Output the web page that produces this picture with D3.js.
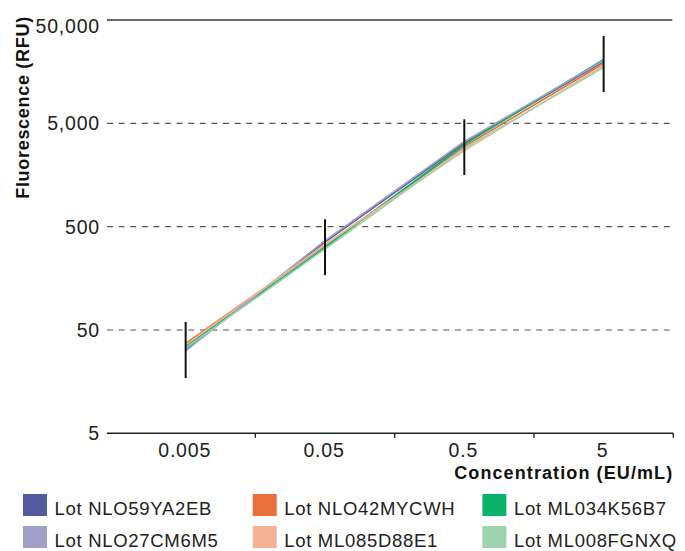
<!DOCTYPE html>
<html>
<head>
<meta charset="utf-8">
<script src="https://cdn.jsdelivr.net/npm/d3@7"></script>
<style>
  body { margin: 0; background: #fff; }
  svg { display: block; font-family: "Liberation Sans", Arial, sans-serif; }
</style>
</head>
<body>
<div id="container"></div>
<script>
// concentrations (EU/mL) and y ticks
const concentrations = ["0.005", "0.05", "0.5", "5"];
const yTicks = [5, 50, 500, 5000, 50000];

// lots, in legend order
const lots = [
  "Lot NLO59YA2EB", "Lot NLO42MYCWH", "Lot ML034K56B7",
  "Lot NLO27CM6M5", "Lot ML085D88E1", "Lot ML008FGNXQ"
];
const lotColors = ["#525b9e", "#e8703a", "#0ab26a", "#a09fc8", "#f3b291", "#9dd3ae"];

// fluorescence (RFU) per lot, one value per concentration
const lotNLO59YA2EB = [32.4, 355, 3224, 19815];
const lotNLO42MYCWH = [37.0, 328, 2982, 18955];
const lotML034K56B7 = [34.6, 314, 3118, 20725];
const lotNLO27CM6M5 = [31.3, 367, 3334, 20270];
const lotML085D88E1 = [35.8, 336, 2727, 18130];
const lotML008FGNXQ = [33.5, 304, 2852, 17340];
const seriesValues = [lotNLO59YA2EB, lotNLO42MYCWH, lotML034K56B7,
  lotNLO27CM6M5, lotML085D88E1, lotML008FGNXQ];

// error bar range per concentration
const errLow = [17.1, 170, 1580, 10050];
const errHigh = [59.7, 589, 5466, 34990];

const W = 685, H = 551;
const plot = { left: 107, bandLeft: 116, right: 673.3, top: 20, bottom: 433.3 };

const svg = d3.select("#container").append("svg")
  .attr("width", W)
  .attr("height", H);

const x = d3.scaleBand().domain(concentrations).range([plot.bandLeft, plot.right]);
const y = d3.scaleLog().domain([5, 50000]).range([plot.bottom, plot.top]);
const cx = (c) => x(c) + x.bandwidth() / 2;

// gridlines
svg.append("g")
  .selectAll("line")
  .data(yTicks.filter((t) => t !== 5))
  .enter()
  .append("line")
  .attr("x1", plot.left)
  .attr("x2", plot.right - 1)
  .attr("y1", (d) => y(d))
  .attr("y2", (d) => y(d))
  .attr("stroke", (d) => (d === 50000 ? "#333" : "#555"))
  .attr("stroke-width", (d) => (d === 50000 ? 1.6 : 1.2))
  .attr("stroke-dasharray", (d) => (d === 50000 ? null : "6,5.6"));

// y tick labels
svg.append("g")
  .selectAll("text")
  .data(yTicks)
  .enter()
  .append("text")
  .attr("x", plot.left - 7)
  .attr("y", (d) => y(d))
  .attr("dy", (d) => (d === 50000 ? "0.68em" : "0.36em"))
  .attr("text-anchor", "end")
  .attr("font-size", "19.5px")
  .attr("letter-spacing", "0.8px")
  .attr("fill", "#222")
  .text(d3.format(","));

// x axis
const xAxis = svg.append("g");
xAxis.append("line")
  .attr("x1", plot.left)
  .attr("x2", plot.right)
  .attr("y1", plot.bottom)
  .attr("y2", plot.bottom)
  .attr("stroke", "#222")
  .attr("stroke-width", 1.6);
xAxis.selectAll(".tick")
  .data(concentrations)
  .enter()
  .append("line")
  .attr("class", "tick")
  .attr("x1", (d) => x(d) + x.bandwidth())
  .attr("x2", (d) => x(d) + x.bandwidth())
  .attr("y1", plot.bottom)
  .attr("y2", plot.bottom + 4.5)
  .attr("stroke", "#222")
  .attr("stroke-width", 1.4);
xAxis.selectAll("text")
  .data(concentrations)
  .enter()
  .append("text")
  .attr("x", (d) => cx(d) - 1)
  .attr("y", plot.bottom + 24)
  .attr("text-anchor", "middle")
  .attr("font-size", "19.5px")
  .attr("letter-spacing", "0.8px")
  .attr("fill", "#222")
  .text((d) => d);

// axis titles
svg.append("text")
  .attr("x", plot.right)
  .attr("y", 478.5)
  .attr("text-anchor", "end")
  .attr("font-size", "18px")
  .attr("font-weight", "bold")
  .attr("letter-spacing", "1.1px")
  .attr("fill", "#111")
  .text("Concentration (EU/mL)");

svg.append("text")
  .attr("transform", "translate(29, 107.5) rotate(-90)")
  .attr("text-anchor", "middle")
  .attr("font-size", "18px")
  .attr("font-weight", "bold")
  .attr("letter-spacing", "0.7px")
  .attr("fill", "#111")
  .text("Fluorescence (RFU)");

// lot lines
const line = d3.line()
  .x((d, i) => cx(concentrations[i]))
  .y((d) => y(d));

svg.append("g")
  .selectAll("path")
  .data(seriesValues)
  .enter()
  .append("path")
  .attr("d", (d) => line(d))
  .attr("fill", "none")
  .attr("stroke", (d, i) => lotColors[i])
  .attr("stroke-width", 1.6);

// error bars
svg.append("g")
  .selectAll("line")
  .data(concentrations)
  .enter()
  .append("line")
  .attr("x1", (d) => cx(d))
  .attr("x2", (d) => cx(d))
  .attr("y1", (d, i) => y(errHigh[i]))
  .attr("y2", (d, i) => y(errLow[i]))
  .attr("stroke", "#111")
  .attr("stroke-width", 2);

// legend
const legend = svg.append("g")
  .selectAll("g")
  .data(lots)
  .enter()
  .append("g")
  .attr("transform", (d, i) => `translate(${23 + (i % 3) * 229.7}, ${494 + Math.floor(i / 3) * 32})`);
legend.append("rect")
  .attr("width", 24)
  .attr("height", 22)
  .attr("fill", (d, i) => lotColors[i]);
legend.append("text")
  .attr("x", 31.5)
  .attr("y", 20.5)
  .attr("font-size", "18.5px")
  .attr("letter-spacing", "0.7px")
  .attr("fill", "#222")
  .text((d) => d);
</script>
</body>
</html>
